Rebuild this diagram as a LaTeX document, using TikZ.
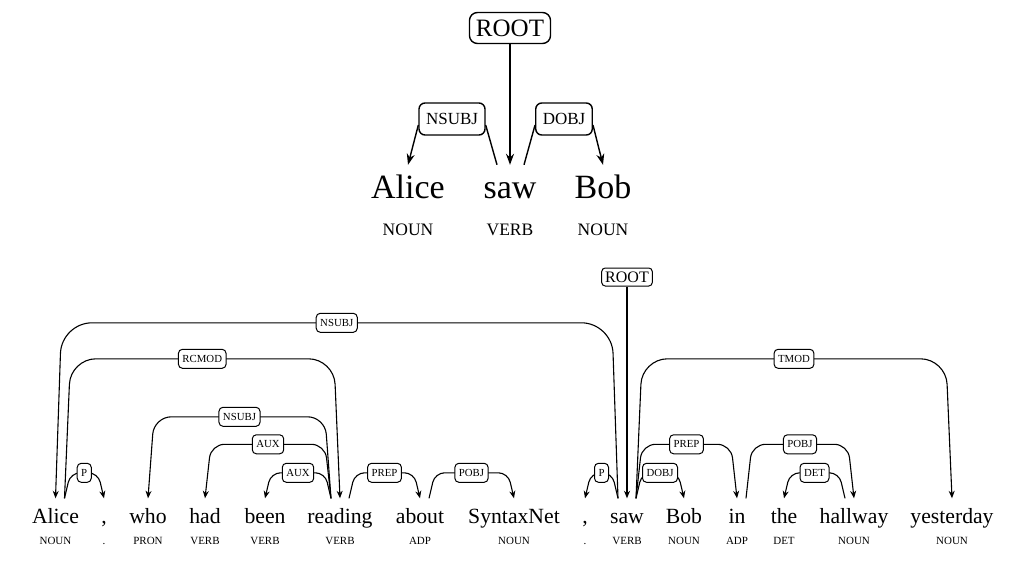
\documentclass[tikz,border=0pt]{standalone}
\usepackage{fontspec}
\setmainfont{Liberation Serif}
\usepackage{tikz}
\usetikzlibrary{
  arrows.meta,
  calc
}
\tikzset{>={Stealth[length=7.5pt,width=6pt]}}
\tikzset{
  word/.style={anchor=base,inner sep=0pt,text height=24.5pt,text depth=6pt,
    font=\fontsize{21.7}{26}\selectfont},
  tag/.style={anchor=base,inner sep=0pt,font=\fontsize{11}{13}\selectfont},
  deplab/.style={draw,fill=white,line width=1pt,rounded corners=4pt,inner xsep=4pt,inner ysep=0pt,
    text height=7.3pt,text depth=0pt,minimum height=19pt,font=\fontsize{10.8}{12}\selectfont},
  deparc/.style={<-,line width=1.1pt},
  topword/.style={anchor=base,inner sep=0pt,text height=33pt,text depth=8pt,
    font=\fontsize{34}{40}\selectfont},
  toptag/.style={anchor=base,inner sep=0pt,font=\fontsize{17.5}{20}\selectfont},
  toplab/.style={draw,fill=white,line width=1.4pt,rounded corners=6pt,inner xsep=7pt,inner ysep=0pt,
    text height=11.5pt,text depth=0pt,minimum height=32pt,font=\fontsize{17}{20}\selectfont},
  toparr/.style={line width=1.4pt,-{Stealth[length=11pt,width=8pt]}}
}
% dependent, head, side (1 = dependent on the left), rise, label
\newcommand\deparc[5]{%
  \pgfmathsetmacro\arcr{6+0.14*#4}%
  \pgfmathsetmacro\hs{-9*#3}%
  \pgfmathsetmacro\sl{6*#3}%
  \draw[deparc,rounded corners=\arcr pt] (#1.north)
    -- ($(#1.north)+(\sl,-#4)$)
    -- node[deplab]{#5} ($([xshift=\hs pt]#2.north)+(-\sl,-#4)$)
    -- ([xshift=\hs pt]#2.north);
}

\begin{document}
\begin{tikzpicture}[x=1pt,y=-1pt]
  \useasboundingbox (0,0) rectangle (1024,576);
  % short sentence
  \node[toplab,rounded corners=8pt,text height=16.5pt,minimum height=31pt,inner xsep=6.5pt,
    font=\fontsize{25}{30}\selectfont] (toproot) at (510,28) {ROOT};
  \node[topword] (topalice) at (408,198) {Alice};
  \node[topword] (topsaw) at (510,198) {saw};
  \node[topword] (topbob) at (603,198) {Bob};
  \node[toptag] (toptag1) at (408,235) {NOUN};
  \node[toptag] (toptag2) at (510,235) {VERB};
  \node[toptag] (toptag3) at (603,235) {NOUN};
  \node[toplab] (topnsubj) at (452,119) {NSUBJ};
  \node[toplab] (topdobj) at (564,119) {DOBJ};
  \draw[toparr] (toproot.south) -- (topsaw.north);
  \draw[toparr] ([yshift=-6pt]topnsubj.west) -- (topalice.north);
  \draw[line width=1.4pt] ([yshift=-6pt]topnsubj.east) -- ([xshift=-13pt]topsaw.north);
  \draw[line width=1.4pt] ([xshift=14pt]topsaw.north) -- ([yshift=-6pt]topdobj.west);
  \draw[toparr] ([yshift=-6pt]topdobj.east) -- (topbob.north);

  % long sentence
  \foreach \x/\w/\t/\n in {55.5/Alice/NOUN/alice, 104/{,}/./c1, 148/who/PRON/who,
      205/had/VERB/had, 265/been/VERB/been, 340/reading/VERB/reading,
      420/about/ADP/about, 514/SyntaxNet/NOUN/syntaxnet, 585/{,}/./c2,
      627/saw/VERB/saw, 684/Bob/NOUN/bob, 737/in/ADP/in, 784/the/DET/the,
      854/hallway/NOUN/hallway, 952/yesterday/NOUN/yesterday}{
    \node[word] (\n) at (\x,523) {\w};
    \node[tag] (t\n) at (\x,544) {\t};
  }
  \node[deplab,rounded corners=3.5pt,inner xsep=3.5pt,text height=10.6pt,minimum height=18pt,
    font=\fontsize{16}{18}\selectfont] (root) at (627,277) {ROOT};
  \draw[->,line width=1.1pt] (root) -- (saw.north);

  \deparc{alice}{saw}{1}{175.5}{NSUBJ}
  \deparc{reading}{alice}{-1}{139.5}{RCMOD}
  \deparc{c1}{alice}{-1}{25.5}{P}
  \deparc{who}{reading}{1}{81.5}{NSUBJ}
  \deparc{had}{reading}{1}{54}{AUX}
  \deparc{been}{reading}{1}{25.5}{AUX}
  \deparc{about}{reading}{-1}{25.5}{PREP}
  \deparc{syntaxnet}{about}{-1}{25.5}{POBJ}
  \deparc{c2}{saw}{1}{25.5}{P}
  \deparc{yesterday}{saw}{-1}{139.5}{TMOD}
  \deparc{in}{saw}{-1}{54}{PREP}
  \deparc{bob}{saw}{-1}{25.5}{DOBJ}
  \deparc{hallway}{in}{-1}{54}{POBJ}
  \deparc{the}{hallway}{1}{25.5}{DET}
\end{tikzpicture}
\end{document}
